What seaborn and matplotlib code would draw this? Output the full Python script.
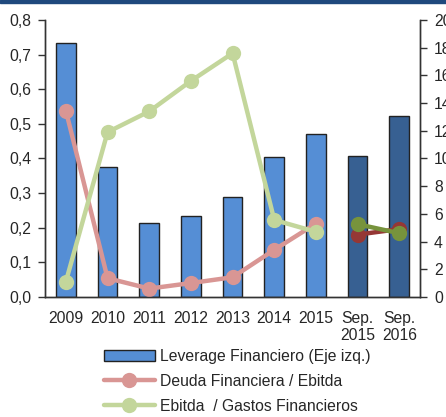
import numpy as np
import pandas as pd
import matplotlib
matplotlib.use("Agg")
import matplotlib.pyplot as plt
import seaborn as sns
from matplotlib.patches import Patch
from matplotlib.lines import Line2D
from matplotlib.ticker import FuncFormatter

# Datos
periodos = ["2009", "2010", "2011", "2012", "2013", "2014", "2015", "Sep.\n2015", "Sep.\n2016"]
leverage = [0.733, 0.375, 0.214, 0.234, 0.29, 0.405, 0.47, 0.408, 0.523]
deuda_ebitda = [13.45, 1.35, 0.6, 1.0, 1.42, 3.4, 5.3, 4.5, 4.9]
ebitda_gastos = [1.1, 11.9, 13.4, 15.6, 17.6, 5.56, 4.7, 5.25, 4.6]
n_anual = 7  # los dos ultimos son cierres parciales (Sep.)

azul, azul_osc = "#558ED5", "#376092"
rojo, rojo_osc = "#D99694", "#953735"
verde, verde_osc = "#C3D69B", "#77933C"

sns.set_style("white")
plt.rcParams["font.family"] = ["Liberation Sans", "DejaVu Sans"]
plt.rcParams["font.size"] = 11.3

df = pd.DataFrame({"periodo": periodos, "leverage": leverage,
                   "deuda": deuda_ebitda, "ebitda": ebitda_gastos})
df["x"] = np.arange(len(df))
df["tipo"] = ["anual"] * n_anual + ["sep"] * (len(df) - n_anual)

fig = plt.figure(figsize=(4.46, 4.17), dpi=100)
ax = fig.add_axes([0.101, 0.288, 0.841, 0.664])

colores = [azul] * n_anual + [azul_osc] * (len(df) - n_anual)
sns.barplot(data=df, x="periodo", y="leverage", hue="periodo", palette=colores,
            legend=False, width=0.47, edgecolor="#222222", linewidth=1.0,
            saturation=1, ax=ax)
ax.set_ylim(0, 0.8)
ax.set_yticks(np.arange(0, 0.81, 0.1))
ax.yaxis.set_major_formatter(FuncFormatter(lambda v, p: f"{v:.1f}".replace(".", ",")))
ax.set_xlim(-0.5, len(df) - 0.5)
ax.set_xlabel("")
ax.set_ylabel("")
ax.set_xticks(np.arange(len(df)))
ax.set_xticklabels(periodos, linespacing=1.15)
ax.set_xticks(np.arange(-0.5, len(df), 1), minor=True)
ax.tick_params(axis="x", which="major", length=0, pad=10)
ax.tick_params(axis="x", which="minor", length=5, width=1, color="#333333", direction="out")
ax.tick_params(axis="y", length=5, width=1, color="#333333", direction="out", pad=5)

ax2 = ax.twinx()
anual = df[df["tipo"] == "anual"]
sep = df[df["tipo"] == "sep"]
for datos, cr in [(anual, rojo), (sep, rojo_osc)]:
    sns.lineplot(data=datos, x="x", y="deuda", color=cr, linewidth=3.2, marker="o",
                 markersize=11, markeredgewidth=0, ax=ax2)
for datos, cv in [(anual, verde), (sep, verde_osc)]:
    sns.lineplot(data=datos, x="x", y="ebitda", color=cv, linewidth=3.2, marker="o",
                 markersize=11, markeredgewidth=0, ax=ax2)
ax2.set_ylim(0, 20)
ax2.set_yticks(np.arange(0, 21, 2))
ax2.set_ylabel("")
ax2.set_xlabel("")
ax2.tick_params(axis="y", length=5, width=1, color="#333333", direction="out", pad=5)
ax2.set_xlim(-0.5, len(df) - 0.5)

for a in (ax, ax2):
    a.spines["top"].set_visible(False)
    for s in ("left", "right", "bottom"):
        a.spines[s].set_color("#333333")
        a.spines[s].set_linewidth(1)

handles = [
    Patch(facecolor=azul, edgecolor="#222222", linewidth=1),
    Line2D([], [], color=rojo, linewidth=3.2, marker="o", markersize=11, markeredgewidth=0),
    Line2D([], [], color=verde, linewidth=3.2, marker="o", markersize=11, markeredgewidth=0),
]
etiquetas = ["Leverage Financiero (Eje izq.)", "Deuda Financiera / Ebitda",
             "Ebitda  / Gastos Financieros"]
fig.legend(handles, etiquetas, loc="upper left", bbox_to_anchor=(0.218, 0.178),
           frameon=False, handlelength=3.3, handletextpad=0.3, labelspacing=0.62,
           borderaxespad=0, fontsize=11.3)

# franja superior
fig.patches.append(plt.Rectangle((0, 0.992), 1, 0.008, transform=fig.transFigure,
                                 color="#1F497D", zorder=10))

fig.savefig("out.png", dpi=100)
